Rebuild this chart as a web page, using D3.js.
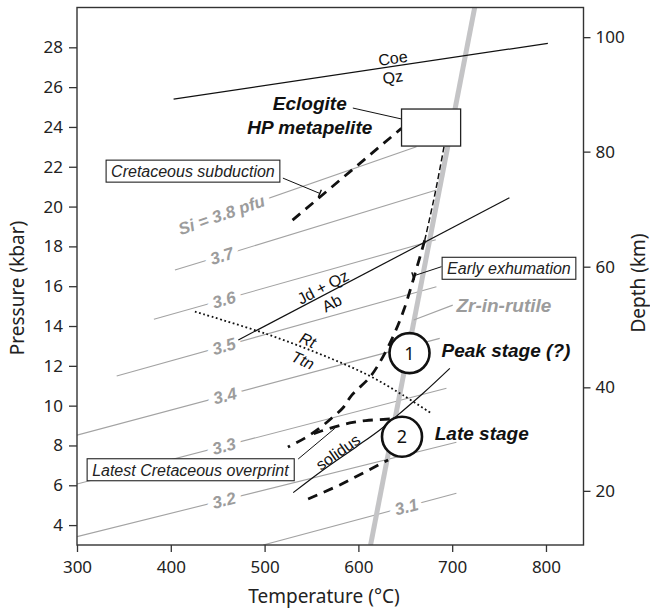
<!DOCTYPE html>
<html>
<head>
<meta charset="utf-8">
<script src="https://cdn.jsdelivr.net/npm/d3@7"></script>
<style>
  html, body { margin: 0; padding: 0; background: #fff; }
  svg { display: block; }
  .tick text { font-family: "Noto Sans", sans-serif; font-size: 17px; fill: #222; }
  .tick line { stroke: #333; stroke-width: 1.3; }
  .ann { font-family: "Liberation Sans", Arial, sans-serif; }
</style>
</head>
<body>
<svg id="chart" width="650" height="614"></svg>
<script>
// ---- axes ----
const tempTicks = [300, 400, 500, 600, 700, 800];
const pressureTicks = [4, 6, 8, 10, 12, 14, 16, 18, 20, 22, 24, 26, 28];
const depthTicks = [20, 40, 60, 80, 100];
const depthAsPressure = [5.72, 10.92, 16.98, 22.76, 28.51];   // kbar at each depth tick

// ---- Si-in-phengite isopleths (T °C, P kbar) ----
const siNames  = ["Si = 3.8 pfu", "3.7", "3.6", "3.5", "3.4", "3.3", "3.2", "3.1"];
const siStartT = [409.8, 404.4, 382.0, 342.3, 300.0, 300.0, 300.0, 498.5];
const siStartP = [18.87, 16.81, 14.34, 11.49, 8.52, 6.06, 3.42, 3.0];
const siEndT   = [661.9, 683.2, 682.5, 683.2, 686.7, 693.9, 704.5, 704.5];
const siEndP   = [23.0, 20.83, 18.33, 15.97, 13.38, 10.87, 8.16, 5.6];
const siLabelT = [454.0, 454.2, 456.6, 456.6, 457.7, 456.6, 456.6, 651.2];

// ---- Zr-in-rutile isotherm ----
const zrT = [613, 724];
const zrP = [3, 30];

// ---- reaction curves ----
const coeT = [403, 802],  coeP = [25.4, 28.2];
const jdT  = [472, 761],  jdP  = [13.3, 20.44];
const rtT  = [425.7, 502.1, 569.6, 612.2, 647.3, 677.9];
const rtP  = [14.72, 13.60, 12.39, 11.49, 10.53, 9.61];
const solT = [530.5, 562.4, 598.0, 622.8, 644.1, 669.0, 697.5];
const solP = [5.63, 6.77, 7.94, 8.78, 9.61, 10.62, 11.87];

// ---- P–T path segments ----
const subdT = [529.8, 645.9], subdP = [19.32, 23.93];
const exh1T = [691.3, 681.4, 670.8], exh1P = [23.01, 20.58, 18.32];
const exh2T = [670.8, 659.0, 648.4, 637.7, 626.0, 612.4, 593.0, 583.4, 571.7, 558.9, 542.9, 524.8];
const exh2P = [18.32, 16.41, 14.80, 13.55, 12.44, 11.44, 10.53, 9.88, 9.38, 8.88, 8.37, 7.92];
const lateT = [633.5, 607.9, 590.9, 574.9, 558.9, 546.1];
const lateP = [9.33, 9.25, 9.13, 8.93, 8.70, 8.47];
const overT = [546.4, 580.2, 631.7], overP = [5.31, 6.01, 7.27];

// eclogite peak field
const ecloT = [646, 709], ecloP = [23.04, 24.9];

// numbered stages
const stageNum = ["1", "2"];
const stageT = [654.5, 646.5];
const stageP = [12.64, 8.44];
const stageName = ["Peak stage (?)", "Late stage"];
const stageNameT = [688.6, 681.4];
const stageNameP = [12.79, 8.61];

// boxed annotations with leaders
const boxText = ["Cretaceous subduction", "Early exhumation", "Latest Cretaceous overprint"];
const boxT = [423.6, 760.5, 420.9];
const boxP = [21.78, 16.90, 6.78];
const leadFromT = [519.5, 688.6, 535.8], leadFromP = [21.43, 16.98, 7.32];
const leadToT   = [558.9, 658.3, 574.9], leadToP   = [20.66, 16.51, 8.86];
const leadTick  = [true, true, false];

const svg = d3.select("#chart");
const L = 77, R = 583.5, T = 7.5, B = 545;
const x = d3.scaleLinear().domain([300, 840]).range([L, R]);
const y = d3.scaleLinear().domain([3, 30]).range([B, T]);
const depth = d3.scaleLinear().domain(depthTicks).range(depthAsPressure.map(p => y(p)));

const line = d3.line().x(d => x(d[0])).y(d => y(d[1]));
const smooth = d3.line().x(d => x(d[0])).y(d => y(d[1])).curve(d3.curveCatmullRom.alpha(0.5));
const pts = (a, b) => d3.zip(a, b);
const angleOf = (t1, p1, t2, p2) => Math.atan2(y(p2) - y(p1), x(t2) - x(t1)) * 180 / Math.PI;

const plot = svg.append("g");
plot.append("clipPath").attr("id", "clip")
  .append("rect").attr("x", L).attr("y", T).attr("width", R - L).attr("height", B - T);
const g = plot.append("g").attr("clip-path", "url(#clip)");

// isopleths
siNames.forEach((name, i) => {
  g.append("path").attr("d", line(pts([siStartT[i], siEndT[i]], [siStartP[i], siEndP[i]])))
    .attr("fill", "none").attr("stroke", "#a3a3a3").attr("stroke-width", 1.1);
});
siNames.forEach((name, i) => {
  const t = siLabelT[i];
  const p = siStartP[i] + (siEndP[i] - siStartP[i]) * (t - siStartT[i]) / (siEndT[i] - siStartT[i]);
  const a = angleOf(siStartT[i], siStartP[i], siEndT[i], siEndP[i]);
  g.append("text").attr("class", "ann")
    .attr("transform", `translate(${x(t)},${y(p)}) rotate(${a})`)
    .attr("text-anchor", "middle").attr("dy", "0.36em")
    .attr("font-size", 17).attr("font-weight", "bold").attr("font-style", "italic")
    .attr("fill", "#9c9c9c").attr("stroke", "#fff").attr("stroke-width", 12)
    .attr("paint-order", "stroke").attr("stroke-linejoin", "round")
    .text(name);
});

// Zr-in-rutile isotherm
g.append("path").attr("d", line(pts(zrT, zrP)))
  .attr("fill", "none").attr("stroke", "#c4c4c6").attr("stroke-width", 5);

// reactions
g.append("path").attr("d", line(pts(coeT, coeP))).attr("fill", "none").attr("stroke", "#111").attr("stroke-width", 1.2);
g.append("path").attr("d", line(pts(jdT, jdP))).attr("fill", "none").attr("stroke", "#111").attr("stroke-width", 1.2);
g.append("path").attr("d", smooth(pts(rtT, rtP))).attr("fill", "none").attr("stroke", "#111")
  .attr("stroke-width", 1.8).attr("stroke-dasharray", "1.8,2.6");
g.append("path").attr("d", smooth(pts(solT, solP))).attr("fill", "none").attr("stroke", "#111").attr("stroke-width", 1.2);

// P–T paths
const dashed = (d, w, dash) => g.append("path").attr("d", d).attr("fill", "none")
  .attr("stroke", "#111").attr("stroke-width", w).attr("stroke-dasharray", dash);
dashed(line(pts(subdT, subdP)), 2.8, "10,7");
dashed(smooth(pts(exh1T, exh1P)), 1.5, "6,3");
dashed(smooth(pts(exh2T, exh2P)), 2.8, "10,7");
dashed(smooth(pts(lateT, lateP)), 2.8, "10,7");
dashed(line(pts(overT, overP)), 2.8, "10,7");

// leaders
leadTick.forEach((tk, i) => {
  g.append("path").attr("d", line([[leadFromT[i], leadFromP[i]], [leadToT[i], leadToP[i]]]))
    .attr("stroke", "#111").attr("stroke-width", 1);
  if (tk) {
    const a = Math.atan2(y(leadToP[i]) - y(leadFromP[i]), x(leadToT[i]) - x(leadFromT[i]));
    const cx = x(leadToT[i]), cy = y(leadToP[i]), h = 4;
    g.append("line")
      .attr("x1", cx - h * Math.sin(a)).attr("y1", cy + h * Math.cos(a))
      .attr("x2", cx + h * Math.sin(a)).attr("y2", cy - h * Math.cos(a))
      .attr("stroke", "#111").attr("stroke-width", 1.4);
  }
});
// leader to eclogite box
g.append("path").attr("d", line([[594.1, 24.95], [645.9, 24.40]])).attr("stroke", "#111").attr("stroke-width", 1);
// leader to Zr-in-rutile isotherm
g.append("path").attr("d", line([[659.0, 14.30], [700.6, 15.05]])).attr("stroke", "#a3a3a3").attr("stroke-width", 1.1);

// eclogite box
g.append("rect").attr("x", x(ecloT[0])).attr("y", y(ecloP[1]))
  .attr("width", x(ecloT[1]) - x(ecloT[0])).attr("height", y(ecloP[0]) - y(ecloP[1]))
  .attr("fill", "#fff").attr("stroke", "#222").attr("stroke-width", 1.3);

// stage circles
stageNum.forEach((n, i) => {
  g.append("circle").attr("cx", x(stageT[i])).attr("cy", y(stageP[i])).attr("r", 20)
    .attr("fill", "#fff").attr("stroke", "#111").attr("stroke-width", 2.6);
  g.append("text").attr("x", x(stageT[i])).attr("y", y(stageP[i])).attr("dy", "0.36em")
    .attr("text-anchor", "middle").attr("font-family", "Noto Sans, sans-serif")
    .attr("font-size", 18).attr("fill", "#111").text(n);
  g.append("text").attr("class", "ann").attr("x", x(stageNameT[i])).attr("y", y(stageNameP[i]))
    .attr("dy", "0.36em").attr("font-size", 19).attr("font-weight", "bold").attr("font-style", "italic")
    .attr("fill", "#111").text(stageName[i]);
});

// boxed labels
boxText.forEach((s, i) => {
  const t = g.append("text").attr("class", "ann").attr("x", x(boxT[i])).attr("y", y(boxP[i]))
    .attr("dy", "0.36em").attr("text-anchor", "middle").attr("font-size", 16)
    .attr("font-style", "italic").attr("fill", "#222").text(s);
  const bb = t.node().getBBox();
  g.insert("rect", () => t.node())
    .attr("x", bb.x - 5).attr("y", y(boxP[i]) - 11).attr("width", bb.width + 10).attr("height", 22)
    .attr("fill", "#fff").attr("stroke", "#222").attr("stroke-width", 1.1);
});

// small curve labels
const tag = (s, t, p, rot, opts = {}) => g.append("text").attr("class", "ann")
  .attr("transform", `translate(${x(t)},${y(p)}) rotate(${rot})`)
  .attr("text-anchor", "middle").attr("dy", "0.36em")
  .attr("font-size", opts.size || 16).attr("font-style", opts.italic ? "italic" : "normal")
  .attr("font-weight", opts.bold ? "bold" : "normal").attr("fill", opts.fill || "#111").text(s);

const coeA = angleOf(coeT[0], coeP[0], coeT[1], coeP[1]);
tag("Coe", 636.7, 27.46, coeA);
tag("Qz", 636.7, 26.51, coeA);
const jdA = angleOf(jdT[0], jdP[0], jdT[1], jdP[1]);
tag("Jd + Qz", 562.1, 15.96, jdA);
tag("Ab", 571.7, 15.15, jdA);
tag("Rt", 546.1, 13.30, 24, { italic: true });
tag("Ttn", 540.8, 12.29, 24, { italic: true });
tag("solidus", 578.1, 7.67, -35);

tag("Eclogite", 548.2, 25.20, 0, { size: 19, bold: true, italic: true });
tag("HP metapelite", 548.2, 23.99, 0, { size: 19, bold: true, italic: true });
g.append("text").attr("class", "ann").attr("x", x(704.5)).attr("y", y(15.05)).attr("dy", "0.36em")
  .attr("font-size", 19).attr("font-weight", "bold").attr("font-style", "italic")
  .attr("fill", "#9c9c9c").text("Zr-in-rutile");

// axes
const ax = svg.append("g").attr("transform", `translate(0,${B})`)
  .call(d3.axisBottom(x).tickValues(tempTicks).tickSize(7).tickPadding(9));
const ay = svg.append("g").attr("transform", `translate(${L},0)`)
  .call(d3.axisLeft(y).tickValues(pressureTicks).tickSize(8).tickPadding(6));
const ad = svg.append("g").attr("transform", `translate(${R},0)`)
  .call(d3.axisRight(depth).tickValues(depthTicks).tickSize(7).tickPadding(5));
[ax, ay, ad].forEach(a => a.select(".domain").remove());

// frame
svg.append("rect").attr("x", L).attr("y", T).attr("width", R - L).attr("height", B - T)
  .attr("fill", "none").attr("stroke", "#333").attr("stroke-width", 1.4);

// axis titles
const title = (s, tx, ty, rot) => svg.append("text")
  .attr("transform", `translate(${tx},${ty}) rotate(${rot})`).attr("text-anchor", "middle")
  .attr("font-family", "Noto Sans, sans-serif").attr("font-size", 19).attr("fill", "#222").text(s);
title("Temperature (°C)", 324, 603, 0);
title("Pressure (kbar)", 24, 288, -90);
title("Depth (km)", 645, 283, -90);
</script>
</body>
</html>
